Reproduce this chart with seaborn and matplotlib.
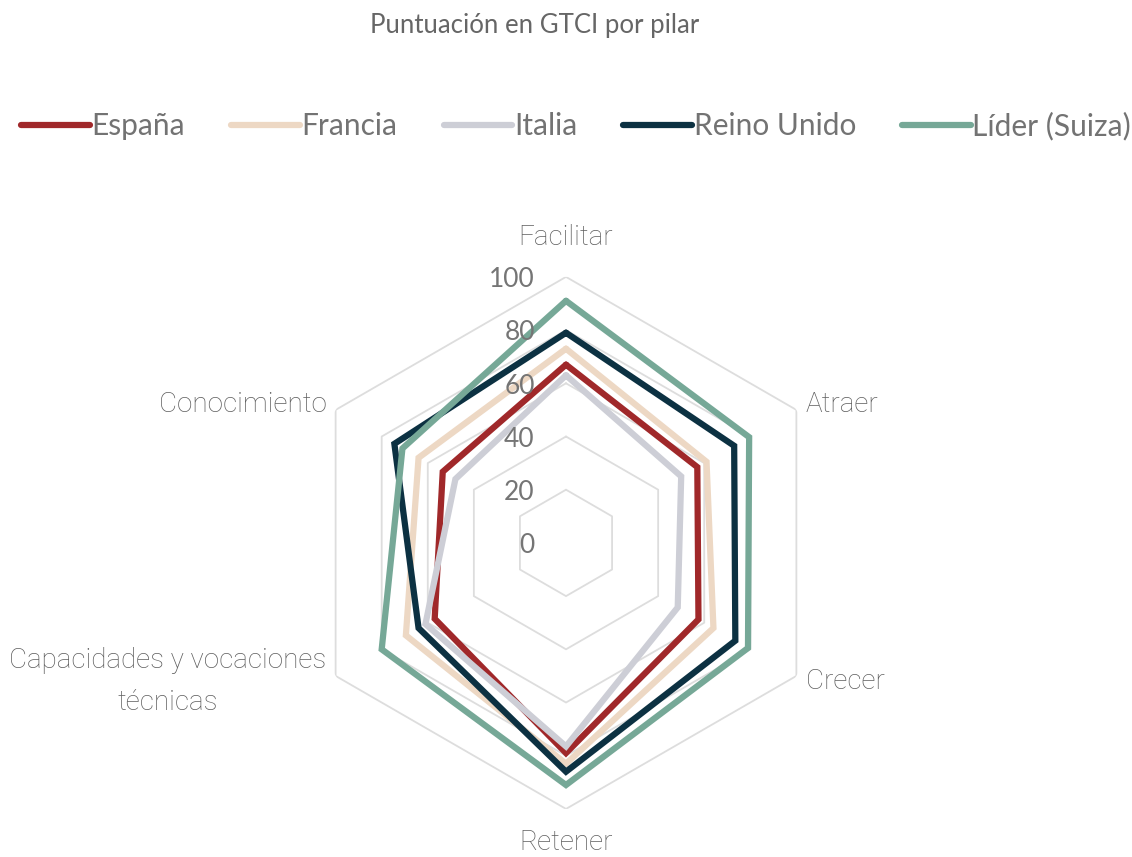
import numpy as np
import pandas as pd
import matplotlib
matplotlib.use("Agg")
import matplotlib.pyplot as plt
import seaborn as sns

pilares = ["Facilitar", "Atraer", "Crecer", "Retener",
           "Capacidades y vocaciones\ntécnicas", "Conocimiento"]
paises = ["España", "Francia", "Italia", "Reino Unido", "Líder (Suiza)"]
espana = [67, 57, 57.5, 79, 57, 53.5]
francia = [73, 61, 64, 83, 69.5, 64]
italia = [63, 50, 48.5, 76.5, 61, 48]
reino_unido = [79, 73, 73.5, 86, 64, 74.5]
suiza = [91, 79.5, 79, 91, 80, 71]
ticks = [0, 20, 40, 60, 80, 100]
colores = ["#A0282A", "#EDD8C4", "#CDCED6", "#0C3142", "#76A897"]

sns.set_theme(style="white")
plt.rcParams["font.family"] = ["Lato", "DejaVu Sans"]

n = len(pilares)
ang = np.linspace(0, 2 * np.pi, n, endpoint=False)
ang_c = np.append(ang, 2 * np.pi)

rows = []
for pais, vals in zip(paises, [espana, francia, italia, reino_unido, suiza]):
    for a, v in zip(ang_c, vals + vals[:1]):
        rows.append({"pais": pais, "ang": a, "valor": v})
df = pd.DataFrame(rows)

fig = plt.figure(figsize=(11.32, 8.57), dpi=100)
ax = fig.add_axes([0.265, 0.056, 0.47, 0.621], projection="polar")
ax.set_theta_offset(np.pi / 2)
ax.set_theta_direction(-1)

# hexagonal grid
for t in ticks[1:]:
    ax.plot(ang_c, [t] * (n + 1), color="#DDDDDD", lw=1.3, zorder=1)

sns.lineplot(data=df, x="ang", y="valor", hue="pais", palette=colores,
             sort=False, estimator=None, linewidth=4.5, ax=ax, zorder=3,
             solid_joinstyle="miter", solid_capstyle="round")

ax.set_ylim(0, 100)
ax.set_xticks([])
ax.set_yticks([])
ax.grid(False)
ax.spines["polar"].set_visible(False)
ax.set_xlabel("")
ax.set_ylabel("")

for t in ticks:
    ax.annotate(str(t), xy=(0, t), xytext=(-22.5, -2), textcoords="offset points",
                ha="right", va="center", fontsize=19, color="#757575", zorder=5)

lab_kw = dict(fontsize=20, color="#5E5E5E", fontweight="light",
              family=["Roboto", "DejaVu Sans"])
ax.text(ang[0], 114.7, pilares[0], ha="center", va="center", **lab_kw)
ax.text(ang[1], 104, pilares[1], ha="left", va="center", **lab_kw)
ax.text(ang[2], 104, pilares[2], ha="left", va="center", **lab_kw)
ax.text(ang[3], 112.8, pilares[3], ha="center", va="center", **lab_kw)
ax.text(ang[4], 104, pilares[4], ha="right", va="center",
        multialignment="center", linespacing=1.7, **lab_kw)
ax.text(ang[5], 104, pilares[5], ha="right", va="center", **lab_kw)

sns.move_legend(ax, "center", bbox_to_anchor=(0.509, 0.853),
                bbox_transform=fig.transFigure, ncol=5, frameon=False,
                title=None, fontsize=21.5, handlelength=2.3,
                handletextpad=0.05, columnspacing=1.55)
for txt in ax.get_legend().get_texts():
    txt.set_color("#737373")

fig.text(0.472, 0.97, "Puntuación en GTCI por pilar", ha="center", va="center",
         fontsize=18.5, color="#666666")

fig.savefig("out.png", dpi=100)
